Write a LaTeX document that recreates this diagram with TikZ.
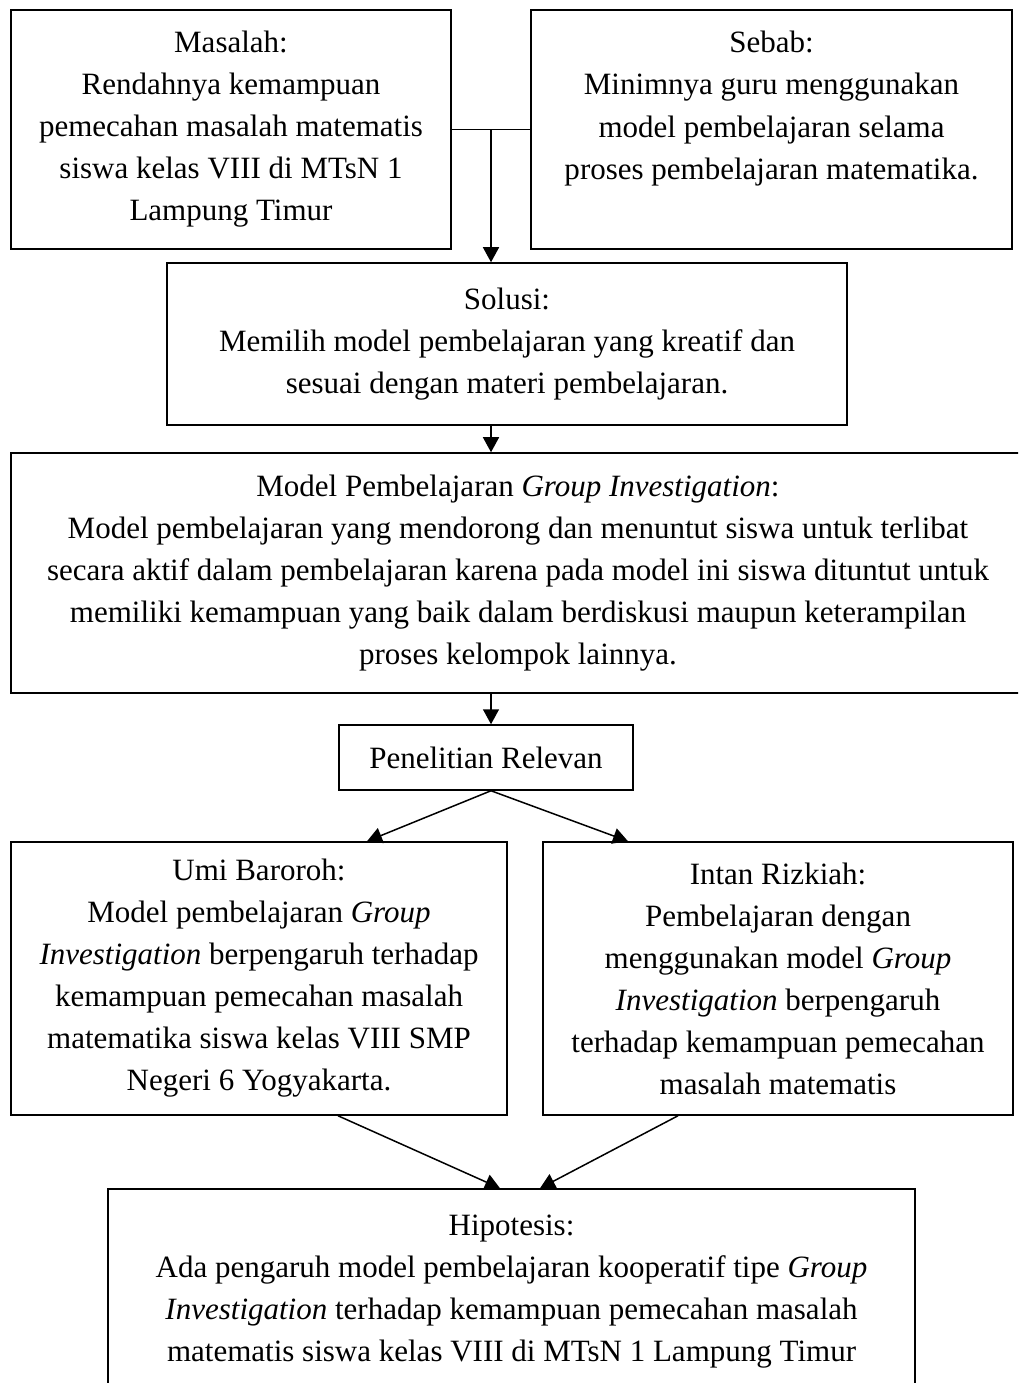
\documentclass[tikz,border=0pt]{standalone}
\usepackage{fontspec}
\setmainfont{Liberation Serif}
\usetikzlibrary{arrows.meta,calc}

\begin{document}
\begin{tikzpicture}[x=0.4pt, y=-0.4pt,
    kotak/.style={draw, line width=0.6pt, align=center, inner sep=0pt,
      font=\fontsize{12.4}{16.8}\selectfont},
    garis/.style={line width=0.6pt},
    panah/.style={line width=0.6pt, -{Triangle[length=6pt,width=6.4pt]}}]
  \useasboundingbox (0,0) rectangle (1018,1383);
  \clip (0,0) rectangle (1018,1383);

  % baris atas
  \node[kotak, minimum width=176pt, minimum height=95.6pt] (masalah) at (231,129.5)
    {Masalah:\\Rendahnya kemampuan\\pemecahan masalah matematis\\siswa kelas VIII di MTsN 1\\Lampung Timur};
  \node[kotak, minimum width=192.4pt, minimum height=95.6pt] (sebab) at (771.5,129.5) {};
  \node[kotak, draw=none, anchor=north] (sebabteks) at ([yshift=-8.6pt]sebab.north)
    {Sebab:\\Minimnya guru menggunakan\\model pembelajaran selama\\proses pembelajaran matematika.};

  \node[kotak, minimum width=272pt, minimum height=64.8pt] (solusi) at (507,344)
    {Solusi:\\Memilih model pembelajaran yang kreatif dan\\sesuai dengan materi pembelajaran.};

  \node[kotak, minimum width=405.6pt, minimum height=96pt] (model) at (518,573)
    {Model Pembelajaran \textit{Group Investigation}:\\
     Model pembelajaran yang mendorong dan menuntut siswa untuk terlibat\\
     secara aktif dalam pembelajaran karena pada model ini siswa dituntut untuk\\
     memiliki kemampuan yang baik dalam berdiskusi maupun keterampilan\\
     proses kelompok lainnya.};

  \node[kotak, minimum width=117.6pt, minimum height=26pt] (penelitian) at (486,757.5)
    {Penelitian Relevan};

  % penelitian relevan
  \node[kotak, minimum width=198.4pt, minimum height=109.2pt] (umi) at (259,978.5)
    {Umi Baroroh:\\Model pembelajaran \textit{Group}\\\textit{Investigation} berpengaruh terhadap\\
     kemampuan pemecahan masalah\\matematika siswa kelas VIII SMP\\Negeri 6 Yogyakarta.};
  \node[kotak, minimum width=188pt, minimum height=109.2pt] (intan) at (778,978.5)
    {Intan Rizkiah:\\Pembelajaran dengan\\menggunakan model \textit{Group}\\
     \textit{Investigation} berpengaruh\\terhadap kemampuan pemecahan\\masalah matematis};

  \node[kotak, minimum width=322.8pt, minimum height=82.4pt] (hipotesis) at (511.5,1292)
    {Hipotesis:\\Ada pengaruh model pembelajaran kooperatif tipe \textit{Group}\\
     \textit{Investigation} terhadap kemampuan pemecahan masalah\\
     matematis siswa kelas VIII di MTsN 1 Lampung Timur};

  % panah
  \coordinate (cabang) at ($(masalah.east)!0.5!(sebab.west)$);
  \draw[garis] (masalah.east) -- (sebab.west);
  \draw[panah] (cabang) -- (cabang |- solusi.north);
  \draw[panah] (cabang |- solusi.south) -- (cabang |- model.north);
  \draw[panah] (cabang |- model.south) -- (cabang |- penelitian.north);
  \draw[panah] (cabang |- penelitian.south) -- ([xshift=43.2pt]umi.north);
  \draw[panah] (cabang |- penelitian.south) -- ([xshift=-60pt]intan.north);
  \draw[panah] ([xshift=31.6pt]umi.south) -- ([xshift=-4.6pt]hipotesis.north);
  \draw[panah] ([xshift=-40pt]intan.south) -- ([xshift=11.4pt]hipotesis.north);
\end{tikzpicture}
\end{document}
